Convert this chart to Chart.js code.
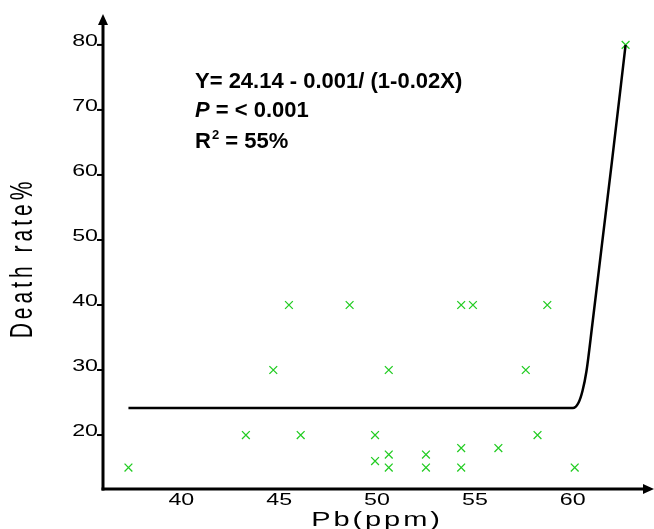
<!DOCTYPE html>
<html>
<head>
<meta charset="utf-8">
<script src="https://cdn.jsdelivr.net/npm/chart.js@4"></script>
<style>
  html, body { margin: 0; padding: 0; background: #fff; }
  #wrap { width: 654px; height: 529px; }
</style>
</head>
<body>
<div id="wrap"><canvas id="deathChart" width="654" height="529"></canvas></div>
<script>
// Observed data (Pb ppm vs death rate %)
const pbValues = [37.3, 43.3, 44.7, 45.5, 46.1, 48.6, 49.9, 49.9, 50.6, 50.6, 50.6, 52.5, 52.5, 54.3, 54.3, 54.3, 54.9, 56.2, 57.6, 58.2, 58.7, 60.1, 62.7];
const deathRates = [15, 20, 30, 40, 20, 40, 20, 16, 30, 17, 15, 17, 15, 40, 18, 15, 40, 18, 30, 20, 40, 15, 80];

// Fitted curve
const fitX = [37.3, 60.0, 60.3, 60.5, 60.7, 61.0, 61.5, 62.0, 62.7];
const fitY = [24.14, 24.14, 25.0, 26.8, 29.8, 37.0, 49.5, 62.0, 80];

const xTicks = [40, 45, 50, 55, 60];
const yTicks = [20, 30, 40, 50, 60, 70, 80];

const STRETCH = 1.45;

// axes, arrows, tick labels and text
const axesPlugin = {
    id: 'axesPlugin',
    afterDraw(chart) {
        const ctx = chart.ctx;
        const area = chart.chartArea;
        const xs = chart.scales.x;
        const ys = chart.scales.y;
        ctx.save();
        ctx.strokeStyle = '#000';
        ctx.fillStyle = '#000';
        ctx.lineWidth = 3;
        // y axis
        ctx.beginPath();
        ctx.moveTo(area.left, area.bottom + 1.5);
        ctx.lineTo(area.left, area.top + 6);
        ctx.stroke();
        ctx.beginPath();
        ctx.moveTo(area.left, area.top - 1);
        ctx.lineTo(area.left - 5, area.top + 10);
        ctx.lineTo(area.left + 5, area.top + 10);
        ctx.closePath();
        ctx.fill();
        // x axis
        ctx.beginPath();
        ctx.moveTo(area.left - 1.5, area.bottom);
        ctx.lineTo(area.right - 6, area.bottom);
        ctx.stroke();
        ctx.beginPath();
        ctx.moveTo(area.right + 1, area.bottom);
        ctx.lineTo(area.right - 10, area.bottom - 5);
        ctx.lineTo(area.right - 10, area.bottom + 5);
        ctx.closePath();
        ctx.fill();

        // y tick stubs and labels
        ctx.lineWidth = 2;
        ctx.font = '16px "Liberation Sans", Arial, sans-serif';
        yTicks.forEach(v => {
            const py = ys.getPixelForValue(v);
            ctx.beginPath();
            ctx.moveTo(area.left - 6, py);
            ctx.lineTo(area.left, py);
            ctx.stroke();
            ctx.save();
            ctx.translate(area.left - 5, py);
            ctx.scale(STRETCH, 1);
            ctx.textAlign = 'right';
            ctx.textBaseline = 'middle';
            ctx.fillText(String(v), 0, -3);
            ctx.restore();
        });
        xTicks.forEach(v => {
            const px = xs.getPixelForValue(v);
            ctx.save();
            ctx.translate(px, area.bottom + 4);
            ctx.scale(STRETCH, 1);
            ctx.textAlign = 'center';
            ctx.textBaseline = 'top';
            ctx.fillText(String(v), 0, 0);
            ctx.restore();
        });

        // axis titles
        ctx.font = '20px "Liberation Sans", Arial, sans-serif';
        ctx.letterSpacing = '2px';
        ctx.save();
        ctx.translate(377, 512);
        ctx.scale(STRETCH, 1);
        ctx.textAlign = 'center';
        ctx.textBaseline = 'top';
        ctx.fillText('Pb(ppm)', 0, -2);
        ctx.restore();

        ctx.save();
        ctx.translate(24, 258);
        ctx.scale(STRETCH, 1);
        ctx.rotate(-Math.PI / 2);
        ctx.font = '21px "Liberation Sans", Arial, sans-serif';
        ctx.letterSpacing = '4px';
        ctx.textAlign = 'center';
        ctx.textBaseline = 'middle';
        ctx.fillText('Death rate%', 0, 0);
        ctx.restore();
        ctx.letterSpacing = '0px';

        // equation text
        const tx = 195;
        const bold = 'bold 22px "Liberation Sans", Arial, sans-serif';
        ctx.textAlign = 'left';
        ctx.textBaseline = 'alphabetic';
        ctx.font = bold;
        ctx.fillText('Y= 24.14 - 0.001/ (1-0.02X)', tx, 88);
        ctx.font = 'italic bold 22px "Liberation Sans", Arial, sans-serif';
        ctx.fillText('P', tx, 117);
        let w = ctx.measureText('P').width;
        ctx.font = bold;
        ctx.fillText(' = < 0.001', tx + w, 117);
        ctx.fillText('R', tx, 148);
        w = ctx.measureText('R').width;
        ctx.font = 'bold 13px "Liberation Sans", Arial, sans-serif';
        ctx.fillText('2', tx + w + 1, 139);
        const w2 = ctx.measureText('2').width;
        ctx.font = bold;
        ctx.fillText(' = 55%', tx + w + w2 + 1, 148);
        ctx.restore();
    }
};

const ctx = document.getElementById('deathChart').getContext('2d');
const deathChart = new Chart(ctx, {
    type: 'scatter',
    data: {
        datasets: [
            {
                label: 'Fit',
                data: fitX.map((x, i) => ({ x: x, y: fitY[i] })),
                showLine: true,
                borderColor: '#000',
                borderWidth: 2.5,
                pointRadius: 0,
                cubicInterpolationMode: 'monotone',
                fill: false
            },
            {
                label: 'Observed',
                data: pbValues.map((x, i) => ({ x: x, y: deathRates[i] })),
                pointStyle: 'crossRot',
                pointRadius: 5.5,
                borderColor: '#22cc22',
                borderWidth: 1.3,
                backgroundColor: '#22cc22'
            }
        ]
    },
    options: {
        responsive: false,
        animation: false,
        events: [],
        layout: { autoPadding: false, padding: { top: 15, right: 1, left: 0, bottom: 0 } },
        plugins: {
            legend: { display: false },
            tooltip: { enabled: false }
        },
        scales: {
            x: {
                type: 'linear',
                min: 36,
                max: 64.1,
                grid: { display: false },
                border: { display: false },
                ticks: { display: false },
                afterFit(s) { s.height = 40; }
            },
            y: {
                type: 'linear',
                min: 11.7,
                max: 84.6,
                grid: { display: false },
                border: { display: false },
                ticks: { display: false },
                afterFit(s) { s.width = 103; }
            }
        }
    },
    plugins: [axesPlugin]
});
</script>
</body>
</html>
